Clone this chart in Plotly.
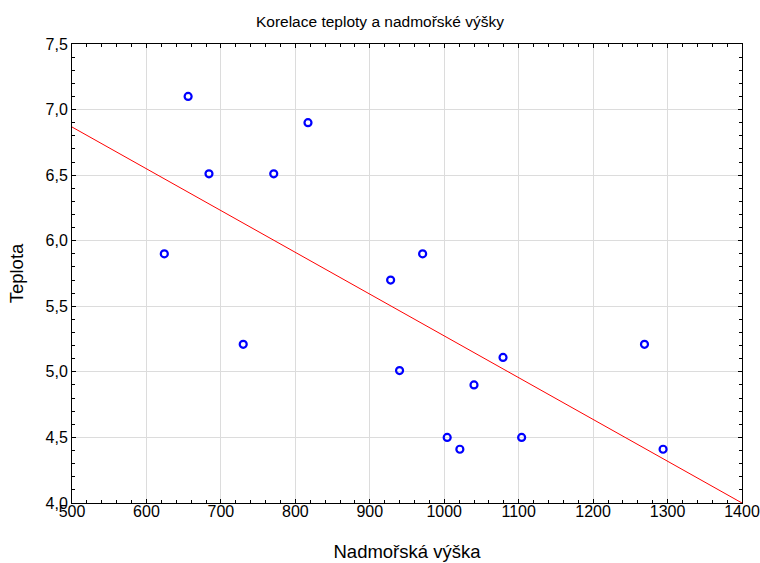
import plotly.graph_objects as go

# Data
altitude = [624, 656, 684, 730, 771, 817, 928, 940, 971, 1004, 1021, 1040, 1079, 1104, 1269, 1294]
temperature = [5.9, 7.1, 6.51, 5.21, 6.51, 6.9, 5.7, 5.01, 5.9, 4.5, 4.41, 4.9, 5.11, 4.5, 5.21, 4.41]

fit_x = [500, 1400]
fit_y = [6.867, 4.0]

x_ticks = [500, 600, 700, 800, 900, 1000, 1100, 1200, 1300, 1400]
y_ticks = [4.0, 4.5, 5.0, 5.5, 6.0, 6.5, 7.0, 7.5]
y_tick_labels = ["4,0", "4,5", "5,0", "5,5", "6,0", "6,5", "7,0", "7,5"]

fig = go.Figure()
fig.add_trace(go.Scatter(
    x=fit_x, y=fit_y, mode="lines",
    line=dict(color="#ff0000", width=1),
    showlegend=False, hoverinfo="skip"))
fig.add_trace(go.Scatter(
    x=altitude, y=temperature, mode="markers",
    marker=dict(symbol="circle-open", size=7, color="#0000ff",
                line=dict(color="#0000ff", width=2.2)),
    showlegend=False))

font_family = "Liberation Sans, Arial, sans-serif"
axis_common = dict(
    showline=True, linecolor="black", linewidth=1, mirror="ticks",
    ticks="inside", ticklen=4, tickcolor="black", tickwidth=1,
    showgrid=True, gridcolor="#dcdcdc", gridwidth=1,
    zeroline=False, automargin=False, ticklabeloverflow="allow",
    tickfont=dict(family=font_family, size=16, color="black"),
)

fig.update_layout(
    width=760, height=563,
    margin=dict(l=72, r=18, t=44, b=60),
    paper_bgcolor="white", plot_bgcolor="white",
    separators=", ",
    title=dict(text="Korelace teploty a nadmořské výšky",
               x=0.5, xanchor="center", y=0.961, yanchor="middle",
               font=dict(family=font_family, size=15.5, color="black")),
    xaxis=dict(
        range=[500, 1400], tickvals=x_ticks, **axis_common,
        ticklabelstandoff=-6,
        minor=dict(ticks="inside", ticklen=3, dtick=20, tickcolor="black", showgrid=False),
        title=dict(text="Nadmořská výška", standoff=25,
                   font=dict(family=font_family, size=18.5, color="black")),
    ),
    yaxis=dict(
        range=[4.0, 7.5], tickvals=y_ticks, ticktext=y_tick_labels, **axis_common,
        minor=dict(ticks="inside", ticklen=3, dtick=0.1, tickcolor="black", showgrid=False),
        title=dict(text="Teplota", standoff=17,
                   font=dict(family=font_family, size=18.5, color="black")),
    ),
)

fig.write_html(
    "out.html",
    config={"displayModeBar": False},
    post_script="document.body.style.margin='0';document.body.style.overflow='hidden';",
)
